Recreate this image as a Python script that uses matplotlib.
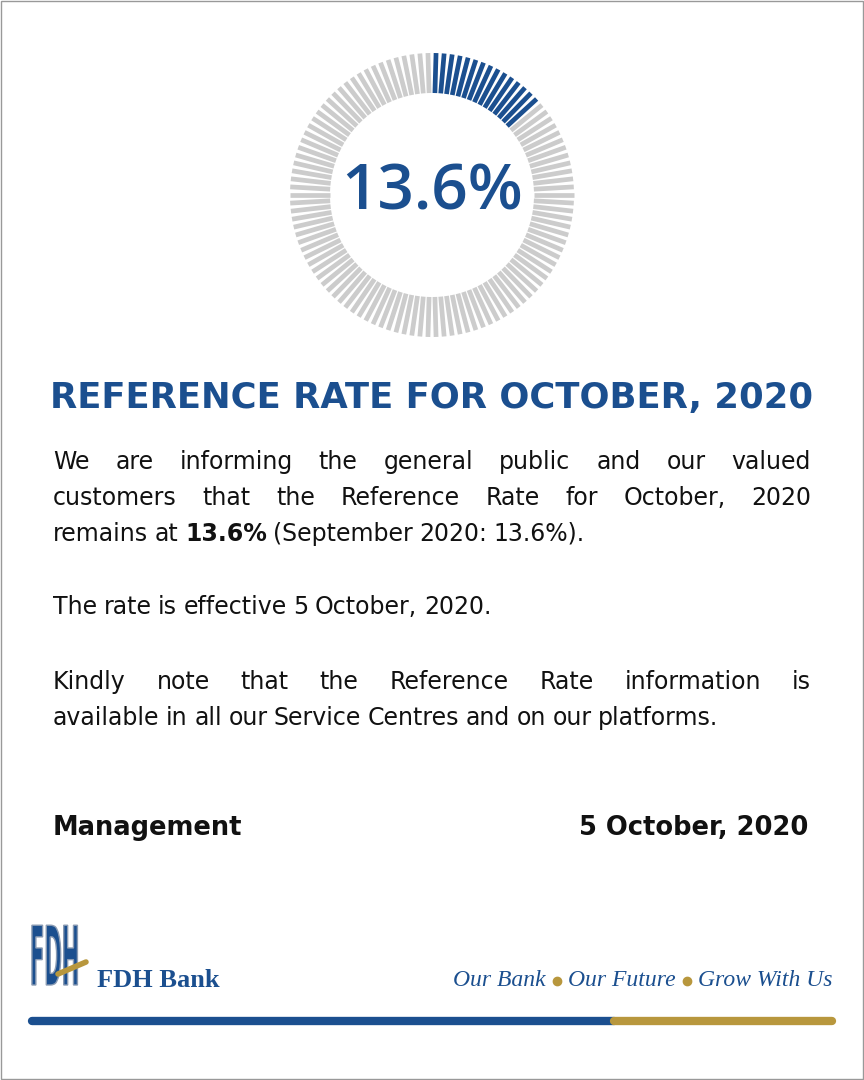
import matplotlib.pyplot as plt
import numpy as np
from matplotlib.textpath import TextPath
from matplotlib.patches import PathPatch
from matplotlib.font_manager import FontProperties
from matplotlib.transforms import Affine2D

BLUE = '#1b4f8f'
GOLD = '#b8973d'
GREY = '#cccccc'

rate = 13.6
n_ticks = 110
title = 'REFERENCE RATE FOR OCTOBER, 2020'
para1 = ['We are informing the general public and our valued',
         'customers that the Reference Rate for October, 2020',
         'remains at **13.6%** (September 2020: 13.6%).']
para2 = ['The rate is effective 5 October, 2020.']
para3 = ['Kindly note that the Reference Rate information is',
         'available in all our Service Centres and on our platforms.']
signer = 'Management'
date = '5 October, 2020'
tagline = ['Our Bank', 'Our Future', 'Grow With Us']

fig = plt.figure(figsize=(8.64, 10.8), dpi=100)
ax = fig.add_axes([0, 0, 1, 1])
ax.set_xlim(0, 864)
ax.set_ylim(1080, 0)
ax.axis('off')
ax.add_patch(plt.Rectangle((1, 1), 862, 1078, fill=False, ec='#999999', lw=1))

# gauge
cx, cy, r0, r1 = 432, 195, 102, 142
n_blue = int(round(rate / 100 * n_ticks))
for i in range(n_ticks):
    a = np.pi / 2 - (i + 0.5) / n_ticks * 2 * np.pi
    c = BLUE if i < n_blue else GREY
    ax.plot([cx + r0 * np.cos(a), cx + r1 * np.cos(a)],
            [cy - r0 * np.sin(a), cy - r1 * np.sin(a)], color=c, lw=3.4,
            solid_capstyle='butt')
ax.text(cx, cy - 2, f'{rate}%', color=BLUE, fontsize=46, family='Open Sans',
        weight='semibold', ha='center', va='center')

ax.text(432, 398, title, color=BLUE, fontsize=25.5, family='DejaVu Sans',
        weight='bold', ha='center', va='center')

fig.canvas.draw()
rend = fig.canvas.get_renderer()
L, R = 53, 811
FS = 17


def put_line(line, y, justify):
    words = line.split(' ')
    arts = []
    for w in words:
        bold = w.startswith('**')
        w = w.replace('**', '')
        t = ax.text(0, y, w, fontsize=FS, family='DejaVu Sans', color='#111111',
                    weight='bold' if bold else 'normal', va='baseline')
        arts.append(t)
    widths = [a.get_window_extent(rend).width for a in arts]
    space = 6.5
    if justify and len(words) > 1:
        space = (R - L - sum(widths)) / (len(words) - 1)
    x = L
    for a, wd in zip(arts, widths):
        a.set_x(x)
        x += wd + space


y = 469
for i, line in enumerate(para1):
    put_line(line, y + 36 * i, i < len(para1) - 1)
put_line(para2[0], 614, False)
for i, line in enumerate(para3):
    put_line(line, 689 + 36 * i, i < len(para3) - 1)

ax.text(L, 835, signer, fontsize=18.5, family='DejaVu Sans', weight='bold',
        color='#111111', va='baseline')
ax.text(R - 3, 835, date, fontsize=18.5, family='DejaVu Sans', weight='bold',
        color='#111111', va='baseline', ha='right')

# logo: tall stretched FDH
tp = TextPath((0, 0), 'FDH', size=10,
              prop=FontProperties(family='Liberation Sans Narrow', weight='bold'))
tr = Affine2D().scale(2.1, -8.2).translate(30, 985)
ax.add_patch(PathPatch(tr.transform_path(tp), fc=BLUE, ec='#8a9bb3', lw=1))
ax.plot([58, 86], [974, 962], color=GOLD, lw=4, solid_capstyle='round')
ax.text(97, 987, 'FDH Bank', fontsize=19, family='Liberation Serif', weight='bold',
        color=BLUE, va='baseline')

# tagline
x = 832
fp = dict(fontsize=17, family='Liberation Serif', style='italic', color=BLUE,
          va='baseline', ha='right')
for j, part in enumerate(reversed(tagline)):
    t = ax.text(x, 986, part, **fp)
    x -= t.get_window_extent(rend).width
    if j < len(tagline) - 1:
        ax.plot(x - 11, 981, 'o', color=GOLD, ms=6)
        x -= 22

# footer bar
ax.plot([32, 614], [1021, 1021], color=BLUE, lw=6, solid_capstyle='round')
ax.plot([614, 832], [1021, 1021], color=GOLD, lw=6, solid_capstyle='round')

fig.savefig('out.png', dpi=100, facecolor='white')
